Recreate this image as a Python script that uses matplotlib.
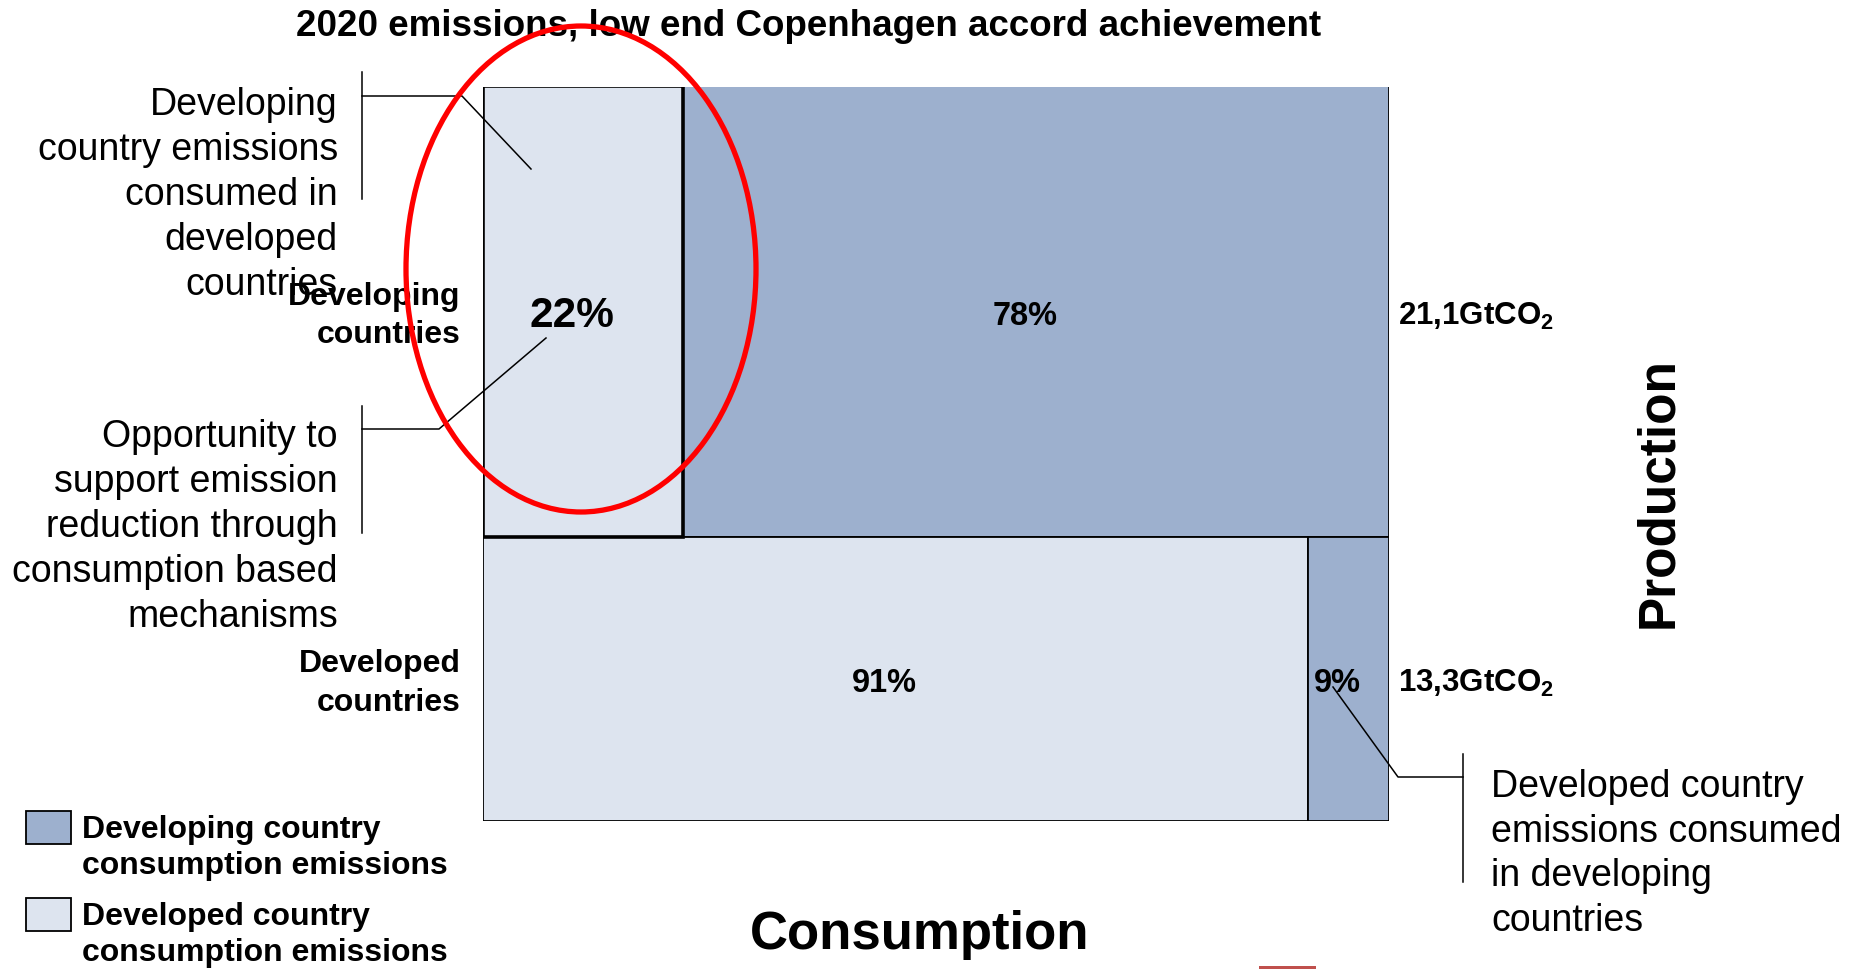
import matplotlib.pyplot as plt
from matplotlib.patches import Ellipse, Rectangle
from matplotlib.lines import Line2D

# production totals (GtCO2) and consumption shares per producing region
regions = ['Developing\ncountries', 'Developed\ncountries']
production = [21.1, 13.3]
production_labels = ['21,1GtCO$_2$', '13,3GtCO$_2$']
# shares: [consumed in developed, consumed in developing]
shares = [[0.22, 0.78], [0.91, 0.09]]
share_labels = [['22%', '78%'], ['91%', '9%']]

legend_labels = ['Developing country\nconsumption emissions',
                 'Developed country\nconsumption emissions']
dark = '#9DB0CE'
light = '#DDE4EF'
seg_colors = [light, dark]

W, H = 1858, 969


def main():
    plt.rcParams['font.family'] = ['Liberation Sans', 'DejaVu Sans']
    plt.rcParams['mathtext.fontset'] = 'custom'
    plt.rcParams['mathtext.rm'] = 'Liberation Sans:bold'

    fig = plt.figure(figsize=(W / 100, H / 100), dpi=100)
    left, right, top, bottom = 483.5, 1389, 86.5, 821
    ax = fig.add_axes([left / W, 1 - bottom / H,
                       (right - left) / W, (bottom - top) / H])
    total = sum(production)
    ax.set_xlim(0, 1)
    ax.set_ylim(0, total)
    ax.axis('off')
    dy = -0.2  # nudge labels slightly down

    # developing row on top, developed row below
    y0 = total
    for i in range(len(regions)):
        h = production[i]
        y0 -= h
        cum = 0
        for j in range(2):
            ax.barh(y0 + h / 2, shares[i][j], left=cum, height=h,
                    color=seg_colors[j], edgecolor='black', linewidth=1.3)
            size = 30.5 if (i == 0 and j == 0) else 23.5
            ax.text(cum + shares[i][j] / 2 - 0.012, y0 + h / 2 + dy,
                    share_labels[i][j], ha='center', va='center',
                    fontsize=size, fontweight='bold')
            cum += shares[i][j]
        ax.text(-0.025, y0 + h / 2 + dy, regions[i], ha='right',
                va='center', fontsize=23, fontweight='bold',
                linespacing=1.38)
        ax.text(1.01, y0 + h / 2 + dy, production_labels[i], ha='left',
                va='center', fontsize=22.5, fontweight='bold')
    # highlighted box
    ax.barh(total - production[0] / 2, shares[0][0], left=0,
            height=production[0], fill=False, edgecolor='black',
            linewidth=2.6, zorder=5)

    # overlay in pixel coordinates for annotations
    ov = fig.add_axes([0, 0, 1, 1])
    ov.set_xlim(0, W)
    ov.set_ylim(H, 0)
    ov.axis('off')

    ov.text(809, 26, '2020 emissions, low end Copenhagen accord achievement',
            ha='center', va='center', fontsize=26.5, fontweight='bold')
    ov.text(1659, 492, 'Production', rotation=90, ha='center', va='center',
            fontsize=37, fontweight='bold')
    ov.text(920, 935, 'Consumption', ha='center', va='center',
            fontsize=38, fontweight='bold')

    ov.text(338, 195, 'Developing\ncountry emissions\nconsumed in\n'
            'developed\ncountries', ha='right', va='center', fontsize=27,
            linespacing=1.32)
    ov.text(338, 527, 'Opportunity to\nsupport emission\nreduction through\n'
            'consumption based\nmechanisms', ha='right', va='center',
            fontsize=27, linespacing=1.32)
    ov.text(1491, 854, 'Developed country\nemissions consumed\n'
            'in developing\ncountries', ha='left', va='center', fontsize=27,
            linespacing=1.32)

    lw = 1.1
    for xs, ys in [([362, 362], [72, 199]),
                   ([362, 462, 531], [96, 96, 169]),
                   ([362, 362], [406, 533]),
                   ([362, 439, 546], [429, 429, 338]),
                   ([1463, 1463], [754, 882]),
                   ([1463, 1398, 1333], [777, 777, 687])]:
        ov.add_line(Line2D(xs, ys, color='black', linewidth=lw))

    ov.add_patch(Ellipse((581, 269), 350, 486, fill=False,
                         edgecolor='#FF0000', linewidth=3.8, zorder=10))

    # legend
    for k, (lab, col) in enumerate(zip(legend_labels, [dark, light])):
        yy = 811 + k * 87
        ov.add_patch(Rectangle((26, yy), 45, 33, facecolor=col,
                               edgecolor='black', linewidth=1.3))
        ov.text(82, yy + 37, lab, ha='left', va='center', fontsize=23,
                fontweight='bold', linespacing=1.3)

    ov.add_patch(Rectangle((1259, 966), 57, 4, facecolor='#C0504D',
                           edgecolor='none'))

    fig.savefig('out.png', dpi=100)


if __name__ == '__main__':
    main()
